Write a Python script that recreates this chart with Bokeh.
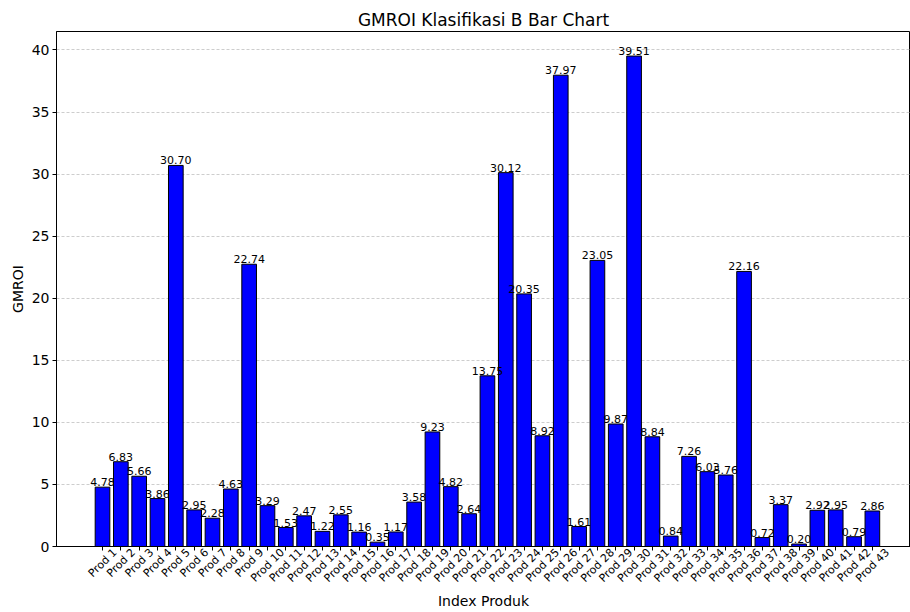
import math
from bokeh.plotting import figure
from bokeh.models import ColumnDataSource, Range1d, FixedTicker, LinearAxis
from bokeh.core.properties import value
from bokeh.embed import file_html
from bokeh.resources import INLINE

products = [f"Prod {i}" for i in range(1, 44)]
gmroi = [4.78, 6.83, 5.66, 3.86, 30.70, 2.95, 2.28, 4.63, 22.74, 3.29,
         1.53, 2.47, 1.22, 2.55, 1.16, 0.35, 1.17, 3.58, 9.23, 4.82,
         2.64, 13.75, 30.12, 20.35, 8.92, 37.97, 1.61, 23.05, 9.87, 39.51,
         8.84, 0.84, 7.26, 6.03, 5.76, 22.16, 0.72, 3.37, 0.20, 2.92,
         2.95, 0.79, 2.86]
y_ticks = [0, 5, 10, 15, 20, 25, 30, 35, 40]

xs = list(range(len(products)))
src = ColumnDataSource(dict(x=xs, top=gmroi,
                            label=[f"{v:.2f}" for v in gmroi]))

FONT = "DejaVu Sans"
W, H = 910, 612
LEFT, TOP, BOTTOM = 56, 31, 65
X0, X1 = -2.51, 44.08
px_per_unit = (W - LEFT) / (X1 - X0)

p = figure(width=W, height=H, output_backend="svg", toolbar_location=None,
           x_range=Range1d(X0, X1), y_range=Range1d(0, 41.49),
           min_border_left=LEFT, min_border_right=0, min_border_top=TOP,
           min_border_bottom=BOTTOM, title="GMROI Klasifikasi B Bar Chart")

p.title.align = "center"
p.title.text_font = FONT
p.title.text_font_size = "17px"
p.title.text_font_style = "normal"
p.title.text_color = "black"
p.title.standoff = 3
p.title.offset = 0

p.vbar(x="x", top="top", width=0.8, bottom=0, source=src,
       fill_color="blue", line_color="black", line_width=1)
p.text(x="x", y="top", text="label", source=src, text_align="center",
       text_baseline="bottom", text_font=value(FONT), text_font_size="11px",
       text_color="black", y_offset=-1)

# tick marks only (matplotlib style centre-aligned rotated labels drawn by a second axis)
p.xaxis.ticker = FixedTicker(ticks=xs)
p.xaxis.major_label_overrides = {i: "" for i in xs}
p.xaxis.major_label_text_font_size = "1px"
p.xaxis.major_label_standoff = 0

# rotated labels whose bounding boxes are centred on the ticks
TICK_PX = 11
def text_w(s):
    em = {"P": 0.603, "r": 0.411, "o": 0.612, "d": 0.635, " ": 0.318}
    return sum(em.get(c, 0.636) for c in s) * TICK_PX
label_pos = [x + 0.354 * text_w(n) / px_per_unit for x, n in zip(xs, products)]
lab_axis = LinearAxis(ticker=FixedTicker(ticks=label_pos),
                      major_label_overrides={lp: n for lp, n in zip(label_pos, products)})
lab_axis.major_label_orientation = math.pi / 4
lab_axis.major_label_text_font_size = f"{TICK_PX}px"
lab_axis.major_label_standoff = 0
lab_axis.axis_line_color = None
lab_axis.major_tick_line_color = None
lab_axis.major_tick_out = 0
lab_axis.major_tick_in = 0
lab_axis.axis_label = "Index Produk"
lab_axis.axis_label_standoff = 1
p.add_layout(lab_axis, "below")

p.yaxis.ticker = FixedTicker(ticks=y_ticks)
p.yaxis.major_label_text_font_size = "14px"
for ax in (p.xaxis[0], lab_axis, p.yaxis[0]):
    ax.major_label_text_font = FONT
    ax.major_label_text_color = "black"
    ax.axis_label_text_font = FONT
    ax.axis_label_text_font_size = "14px"
    ax.axis_label_text_font_style = "normal"
    ax.axis_label_text_color = "black"
    ax.minor_tick_line_color = None
for ax in (p.xaxis[0], p.yaxis[0]):
    ax.major_tick_out = 4
    ax.major_tick_in = 0
    ax.axis_line_color = "black"
    ax.major_tick_line_color = "black"
p.yaxis.axis_label = "GMROI"
p.yaxis.major_label_standoff = 3
p.yaxis.axis_label_standoff = 3

p.xgrid.grid_line_color = None
p.ygrid.grid_line_color = "#c0c0c0"
p.ygrid.grid_line_dash = "3 2"
p.ygrid.grid_line_width = 0.8

p.outline_line_color = "black"
p.outline_line_width = 1
p.outline_line_alpha = 1

open("out.html", "w").write(file_html(p, INLINE))
